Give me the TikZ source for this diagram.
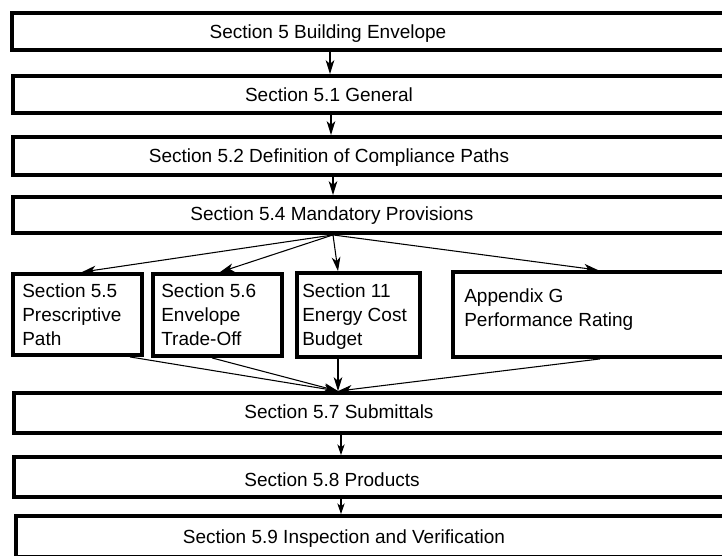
\documentclass[tikz,border=0pt]{standalone}
\usepackage{fontspec}
\setmainfont{Liberation Sans}
\usetikzlibrary{arrows.meta,calc,fit}
\begin{document}
\begin{tikzpicture}[x=0.75pt,y=-0.75pt,
  box/.style={draw=black, line width=2.9pt, inner sep=0pt, line join=miter},
  lbl/.style={inner sep=0pt, font=\fontsize{14.25}{18}\selectfont, anchor=base},
  mlbl/.style={inner sep=0pt, font=\fontsize{14.25}{18}\selectfont, anchor=north west, align=left},
  arr/.style={line width=0.8pt, -{Stealth[length=10.5pt,width=6.5pt,inset=3pt]}},
  arrs/.style={line width=0.8pt, -{Stealth[length=8pt,width=5.5pt,inset=2.2pt]}}]
\clip (0,0) rectangle (722,556);
\fill[white] (0,0) rectangle (722,556);

% main chain of wide boxes (they run off the right edge)
\node[box, fit={(12,13) (745,50)}]  (b1)  {};
\node[box, fit={(13,76) (745,113)}] (b2)  {};
\node[box, fit={(13,137) (745,175)}] (b3) {};
\node[box, fit={(13,197) (745,233)}] (b4) {};
\node[box, fit={(14,393) (745,433)}] (b57) {};
\node[box, fit={(14,457) (745,497)}] (b58) {};
\node[box, fit={(16,516) (745,557)}] (b59) {};

% the four compliance paths
\node[box, fit={(13,274) (142,355)}]  (b5) {};
\node[box, fit={(153,274) (282,356)}] (b6) {};
\node[box, fit={(297,273) (420,357)}] (b7) {};
\node[box, fit={(453,272) (745,357)}] (b8) {};

% labels
\node[lbl] (t1) at (328,39)  {Section 5 Building Envelope};
\node[lbl] (t2) at (329,102) {Section 5.1 General};
\node[lbl] (t3) at (329,163) {Section 5.2 Definition of Compliance Paths};
\node[lbl] (t4) at (332,221) {Section 5.4 Mandatory Provisions};
\node[lbl] (t57) at (339,418) {Section 5.7 Submittals};
\node[lbl] (t58) at (332,486) {Section 5.8 Products};
\node[lbl] (t59) at (344,543) {Section 5.9 Inspection and Verification};
\node[mlbl] (t5) at (22,283)  {Section 5.5\\Prescriptive\\Path};
\node[mlbl] (t6) at (161,283) {Section 5.6\\Envelope\\Trade-Off};
\node[mlbl] (t7) at (302,283) {Section 11\\Energy Cost\\Budget};
\node[mlbl] (t8) at (464,288) {Appendix G\\Performance Rating};

% connector columns
\coordinate (x1) at (330,0);
\coordinate (x2) at (331,0);
\coordinate (x3) at (333,0);
\coordinate (xm) at (338,0);
\coordinate (x7) at (341,0);
\coordinate (p5) at (82,0);
\coordinate (p6) at (220,0);
\coordinate (p8) at (598,0);
\coordinate (s5) at (130,0);
\coordinate (s6) at (212,0);
\coordinate (s8) at (600,0);

% straight chain
\draw[arr] (b1.south -| x1) -- (b2.north -| x1);
\draw[arr] (b2.south -| x2) -- (b3.north -| x2);
\draw[arr] (b3.south -| x3) -- (b4.north -| x3);

% fan out to the paths
\draw[arr] (b4.south -| x3) -- (b5.north -| p5);
\draw[arr] (b4.south -| x3) -- (b6.north -| p6);
\draw[arr] (b4.south -| x3) -- (b7.north -| xm);
\draw[arr] (b4.south -| x3) -- (b8.north -| p8);

% fan in to submittals
\draw[arr] (b5.south -| s5) -- (b57.north -| xm);
\draw[arr] (b6.south -| s6) -- (b57.north -| xm);
\draw[arr] (b7.south -| xm) -- (b57.north -| xm);
\draw[arr] (b8.south -| s8) -- (b57.north -| xm);

% lower chain
\draw[arrs] (b57.south -| x7) -- (b58.north -| x7);
\draw[arrs] (b58.south -| x7) -- (b59.north -| x7);
\end{tikzpicture}
\end{document}
